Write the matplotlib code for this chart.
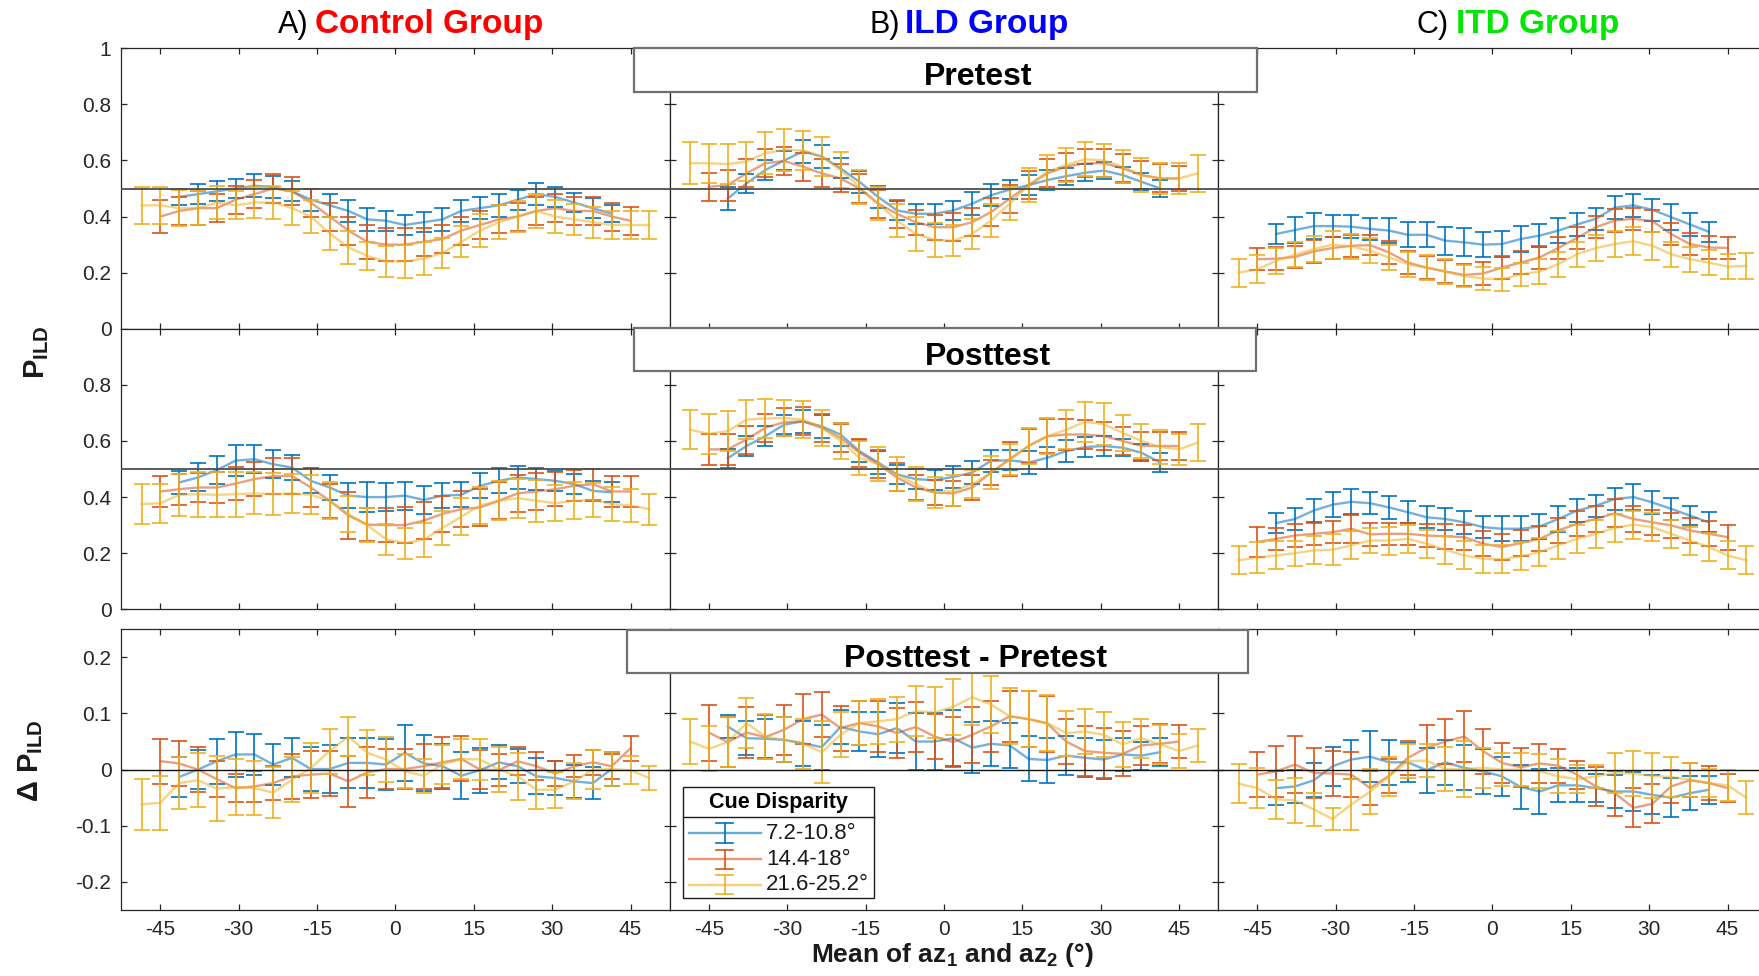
import matplotlib
matplotlib.use("Agg")
import matplotlib.pyplot as plt
from matplotlib.patches import Rectangle

plt.rcParams['font.family'] = ['Liberation Sans', 'DejaVu Sans']
plt.rcParams['axes.unicode_minus'] = False
plt.rcParams['mathtext.fontset'] = 'custom'
plt.rcParams['mathtext.rm'] = 'Liberation Sans'
plt.rcParams['mathtext.bf'] = 'Liberation Sans:bold'
plt.rcParams['mathtext.it'] = 'Liberation Sans:italic'

# mean azimuth of the pair, one grid per cue disparity
x_b = [-41.4, -37.8, -34.2, -30.6, -27.0, -23.4, -19.8, -16.2, -12.6, -9.0, -5.4, -1.8,
       1.8, 5.4, 9.0, 12.6, 16.2, 19.8, 23.4, 27.0, 30.6, 34.2, 37.8, 41.4]
x_r = [-45.0, -41.4, -37.8, -34.2, -30.6, -27.0, -23.4, -19.8, -16.2, -12.6, -9.0, -5.4, -1.8,
       1.8, 5.4, 9.0, 12.6, 16.2, 19.8, 23.4, 27.0, 30.6, 34.2, 37.8, 41.4, 45.0]
x_y = [-48.6, -45.0, -41.4, -37.8, -34.2, -30.6, -27.0, -23.4, -19.8, -16.2, -12.6, -9.0, -5.4, -1.8,
       1.8, 5.4, 9.0, 12.6, 16.2, 19.8, 23.4, 27.0, 30.6, 34.2, 37.8, 41.4, 45.0, 48.6]

disparity_labels = ['7.2-10.8°', '14.4-18°', '21.6-25.2°']
group_letters = ['A)', 'B)', 'C)']
group_names = ['Control Group', 'ILD Group', 'ITD Group']
group_colors = ['#ff0000', '#0000ff', '#00e600']
row_titles = ['Pretest', 'Posttest', 'Posttest - Pretest']

# ---- Pretest ----
ctrl_pre_b = [0.47, 0.48, 0.49, 0.50, 0.51, 0.505, 0.49, 0.46, 0.44, 0.42, 0.39, 0.385,
              0.37, 0.38, 0.39, 0.42, 0.43, 0.44, 0.46, 0.48, 0.47, 0.45, 0.43, 0.41]
ctrl_pre_r = [0.40, 0.42, 0.43, 0.43, 0.46, 0.48, 0.50, 0.49, 0.45, 0.40, 0.35, 0.31, 0.30,
              0.30, 0.31, 0.32, 0.35, 0.37, 0.39, 0.40, 0.42, 0.43, 0.42, 0.42, 0.40, 0.385]
ctrl_pre_y = [0.44, 0.44, 0.43, 0.43, 0.45, 0.44, 0.45, 0.45, 0.43, 0.40, 0.34, 0.29, 0.26, 0.24,
              0.24, 0.25, 0.27, 0.31, 0.35, 0.38, 0.40, 0.42, 0.40, 0.39, 0.38, 0.37, 0.37, 0.37]
ctrl_pre_b_err = [0.03, 0.035, 0.035, 0.035, 0.04, 0.04, 0.035, 0.04, 0.04, 0.04, 0.04, 0.035,
                  0.035, 0.035, 0.04, 0.04, 0.04, 0.04, 0.035, 0.04, 0.035, 0.035, 0.035, 0.03]
ctrl_pre_r_err = [0.06, 0.05, 0.06, 0.05, 0.05, 0.05, 0.05, 0.05, 0.05, 0.05, 0.05, 0.06, 0.06,
                  0.06, 0.05, 0.05, 0.05, 0.05, 0.05, 0.05, 0.05, 0.05, 0.05, 0.05, 0.05, 0.05]
ctrl_pre_y_err = [0.065, 0.065, 0.065, 0.06, 0.06, 0.05, 0.055, 0.06, 0.06, 0.06, 0.06, 0.06, 0.05, 0.055,
                  0.06, 0.06, 0.055, 0.055, 0.06, 0.06, 0.055, 0.06, 0.06, 0.055, 0.055, 0.05, 0.05, 0.05]

ild_pre_b = [0.464, 0.518, 0.566, 0.60, 0.632, 0.614, 0.572, 0.524, 0.47, 0.422, 0.41, 0.41,
             0.422, 0.446, 0.476, 0.496, 0.512, 0.53, 0.544, 0.556, 0.564, 0.548, 0.524, 0.50]
ild_pre_r = [0.506, 0.512, 0.554, 0.59, 0.598, 0.578, 0.554, 0.536, 0.50, 0.446, 0.41, 0.38, 0.362,
             0.362, 0.38, 0.416, 0.464, 0.512, 0.554, 0.578, 0.59, 0.59, 0.572, 0.548, 0.536, 0.536]
ild_pre_y = [0.59, 0.59, 0.587, 0.596, 0.626, 0.638, 0.636, 0.614, 0.566, 0.506, 0.446, 0.386, 0.338, 0.317,
             0.314, 0.338, 0.386, 0.446, 0.512, 0.56, 0.584, 0.604, 0.60, 0.578, 0.548, 0.536, 0.536, 0.554]
ild_pre_b_err = [0.04, 0.035, 0.035, 0.035, 0.04, 0.04, 0.035, 0.04, 0.04, 0.035, 0.035, 0.035,
                 0.035, 0.04, 0.04, 0.035, 0.035, 0.035, 0.03, 0.03, 0.03, 0.03, 0.03, 0.03]
ild_pre_r_err = [0.05, 0.055, 0.05, 0.05, 0.05, 0.05, 0.05, 0.05, 0.05, 0.05, 0.05, 0.045, 0.045,
                 0.05, 0.05, 0.05, 0.05, 0.05, 0.05, 0.05, 0.05, 0.05, 0.05, 0.05, 0.05, 0.045]
ild_pre_y_err = [0.075, 0.07, 0.07, 0.07, 0.075, 0.075, 0.07, 0.07, 0.065, 0.06, 0.06, 0.06, 0.06, 0.06,
                 0.055, 0.055, 0.06, 0.06, 0.06, 0.06, 0.06, 0.06, 0.06, 0.06, 0.06, 0.055, 0.055, 0.065]

itd_pre_b = [0.338, 0.352, 0.366, 0.366, 0.364, 0.356, 0.35, 0.335, 0.335, 0.314, 0.308, 0.30,
             0.302, 0.32, 0.332, 0.35, 0.372, 0.392, 0.432, 0.44, 0.424, 0.398, 0.372, 0.346]
itd_pre_r = [0.248, 0.25, 0.256, 0.276, 0.288, 0.296, 0.298, 0.272, 0.236, 0.218, 0.204, 0.192, 0.197,
             0.218, 0.236, 0.254, 0.288, 0.324, 0.362, 0.386, 0.392, 0.384, 0.338, 0.302, 0.29, 0.288]
itd_pre_y = [0.20, 0.212, 0.242, 0.264, 0.284, 0.30, 0.293, 0.278, 0.254, 0.23, 0.218, 0.204, 0.188, 0.179,
             0.176, 0.194, 0.204, 0.23, 0.266, 0.288, 0.302, 0.312, 0.296, 0.266, 0.248, 0.236, 0.222, 0.224]
itd_pre_b_err = [0.035, 0.045, 0.045, 0.04, 0.04, 0.04, 0.045, 0.045, 0.045, 0.05, 0.05, 0.045,
                 0.045, 0.045, 0.04, 0.045, 0.04, 0.04, 0.04, 0.04, 0.04, 0.045, 0.04, 0.035]
itd_pre_r_err = [0.04, 0.04, 0.04, 0.04, 0.04, 0.04, 0.035, 0.04, 0.04, 0.04, 0.04, 0.04, 0.04,
                 0.04, 0.04, 0.04, 0.04, 0.04, 0.04, 0.04, 0.04, 0.04, 0.04, 0.04, 0.04, 0.04]
itd_pre_y_err = [0.05, 0.05, 0.045, 0.045, 0.045, 0.05, 0.045, 0.045, 0.045, 0.045, 0.045, 0.045, 0.04, 0.04,
                 0.04, 0.04, 0.045, 0.045, 0.045, 0.045, 0.045, 0.05, 0.05, 0.045, 0.045, 0.045, 0.045, 0.045]

# ---- Posttest ----
ctrl_post_b = [0.452, 0.47, 0.496, 0.53, 0.535, 0.517, 0.505, 0.458, 0.434, 0.405, 0.40, 0.40,
               0.405, 0.39, 0.405, 0.408, 0.44, 0.458, 0.47, 0.464, 0.458, 0.446, 0.422, 0.417]
ctrl_post_r = [0.42, 0.428, 0.434, 0.434, 0.448, 0.464, 0.475, 0.475, 0.434, 0.387, 0.334, 0.302, 0.30,
               0.30, 0.316, 0.34, 0.357, 0.363, 0.387, 0.413, 0.42, 0.428, 0.44, 0.446, 0.42, 0.42]
ctrl_post_y = [0.375, 0.378, 0.408, 0.41, 0.408, 0.41, 0.413, 0.41, 0.413, 0.408, 0.387, 0.34, 0.30, 0.25,
               0.236, 0.248, 0.29, 0.33, 0.37, 0.387, 0.396, 0.387, 0.378, 0.387, 0.39, 0.375, 0.37, 0.357]
ctrl_post_b_err = [0.04, 0.05, 0.05, 0.055, 0.05, 0.05, 0.045, 0.045, 0.045, 0.045, 0.055, 0.05,
                   0.05, 0.05, 0.045, 0.045, 0.045, 0.045, 0.04, 0.04, 0.035, 0.035, 0.035, 0.035]
ctrl_post_r_err = [0.055, 0.055, 0.05, 0.055, 0.06, 0.06, 0.065, 0.065, 0.07, 0.06, 0.085, 0.06, 0.06,
                   0.065, 0.065, 0.065, 0.065, 0.065, 0.065, 0.065, 0.065, 0.06, 0.055, 0.055, 0.055, 0.055]
ctrl_post_y_err = [0.07, 0.07, 0.075, 0.08, 0.08, 0.08, 0.075, 0.075, 0.07, 0.07, 0.065, 0.065, 0.06, 0.055,
                   0.055, 0.06, 0.06, 0.065, 0.065, 0.07, 0.07, 0.075, 0.065, 0.065, 0.06, 0.06, 0.06, 0.055]

ild_post_b = [0.538, 0.582, 0.617, 0.658, 0.67, 0.652, 0.623, 0.564, 0.523, 0.481, 0.464, 0.46,
              0.472, 0.487, 0.529, 0.531, 0.523, 0.54, 0.564, 0.578, 0.582, 0.576, 0.558, 0.523]
ild_post_r = [0.57, 0.57, 0.605, 0.647, 0.667, 0.67, 0.647, 0.611, 0.558, 0.517, 0.47, 0.434, 0.416,
              0.413, 0.434, 0.487, 0.535, 0.582, 0.617, 0.623, 0.623, 0.617, 0.60, 0.582, 0.582, 0.582]
ild_post_y = [0.64, 0.625, 0.635, 0.676, 0.68, 0.682, 0.676, 0.647, 0.60, 0.54, 0.517, 0.481, 0.446, 0.416,
              0.422, 0.446, 0.487, 0.535, 0.582, 0.617, 0.64, 0.668, 0.66, 0.629, 0.60, 0.578, 0.57, 0.594]
ild_post_b_err = [0.035, 0.035, 0.035, 0.035, 0.04, 0.04, 0.04, 0.04, 0.04, 0.035, 0.035, 0.035,
                  0.04, 0.04, 0.04, 0.035, 0.04, 0.04, 0.04, 0.035, 0.035, 0.03, 0.03, 0.035]
ild_post_r_err = [0.055, 0.055, 0.05, 0.05, 0.05, 0.05, 0.05, 0.05, 0.05, 0.05, 0.05, 0.045, 0.045,
                  0.045, 0.045, 0.045, 0.06, 0.06, 0.06, 0.055, 0.05, 0.05, 0.05, 0.05, 0.05, 0.05]
ild_post_y_err = [0.07, 0.07, 0.07, 0.07, 0.07, 0.065, 0.065, 0.065, 0.065, 0.06, 0.06, 0.06, 0.06, 0.055,
                  0.055, 0.05, 0.06, 0.055, 0.065, 0.065, 0.07, 0.07, 0.075, 0.065, 0.06, 0.06, 0.055, 0.065]

itd_post_b = [0.307, 0.322, 0.352, 0.373, 0.383, 0.378, 0.363, 0.346, 0.328, 0.322, 0.31, 0.293,
              0.287, 0.287, 0.295, 0.322, 0.352, 0.369, 0.393, 0.40, 0.381, 0.358, 0.334, 0.31]
itd_post_r = [0.24, 0.251, 0.263, 0.269, 0.275, 0.287, 0.267, 0.269, 0.269, 0.263, 0.26, 0.257, 0.234,
              0.222, 0.236, 0.251, 0.281, 0.305, 0.322, 0.342, 0.322, 0.31, 0.299, 0.281, 0.269, 0.257]
itd_post_y = [0.175, 0.184, 0.192, 0.20, 0.21, 0.212, 0.228, 0.245, 0.245, 0.251, 0.234, 0.212, 0.192, 0.18,
              0.178, 0.189, 0.204, 0.228, 0.251, 0.269, 0.29, 0.302, 0.293, 0.269, 0.245, 0.222, 0.192, 0.175]
itd_post_b_err = [0.035, 0.04, 0.04, 0.045, 0.045, 0.04, 0.04, 0.04, 0.04, 0.04, 0.04, 0.04,
                  0.045, 0.045, 0.045, 0.045, 0.04, 0.04, 0.04, 0.045, 0.04, 0.04, 0.035, 0.035]
itd_post_r_err = [0.055, 0.04, 0.04, 0.04, 0.04, 0.05, 0.04, 0.04, 0.04, 0.04, 0.045, 0.045, 0.045,
                  0.045, 0.045, 0.045, 0.045, 0.045, 0.045, 0.05, 0.045, 0.045, 0.045, 0.045, 0.045, 0.045]
itd_post_y_err = [0.05, 0.055, 0.05, 0.045, 0.05, 0.055, 0.05, 0.045, 0.05, 0.05, 0.05, 0.05, 0.05, 0.05,
                  0.05, 0.05, 0.05, 0.05, 0.05, 0.05, 0.05, 0.05, 0.05, 0.05, 0.05, 0.05, 0.05, 0.05]

# ---- Posttest - Pretest ----
ctrl_diff_b = [-0.013, 0.0, 0.015, 0.027, 0.027, 0.009, 0.021, 0.001, 0.001, 0.012, 0.012, 0.009,
               0.03, 0.011, 0.006, -0.011, -0.001, 0.013, 0.006, -0.012, -0.015, -0.021, -0.024, 0.001]
ctrl_diff_r = [0.015, 0.011, 0.0, -0.017, -0.033, -0.03, -0.024, -0.012, -0.009, -0.007, -0.021, -0.005, 0.001,
               0.001, 0.006, 0.013, 0.019, 0.0, -0.001, 0.015, 0.006, -0.007, 0.006, 0.013, 0.006, 0.038]
ctrl_diff_y = [-0.062, -0.059, -0.024, -0.019, -0.034, -0.031, -0.033, -0.041, -0.018, 0.003, 0.033, 0.059, 0.03, 0.018,
               -0.003, -0.011, 0.009, 0.019, 0.018, 0.0, -0.012, -0.036, -0.036, -0.021, 0.0, 0.001, -0.001, -0.015]
ctrl_diff_b_err = [0.035, 0.035, 0.04, 0.04, 0.037, 0.036, 0.035, 0.04, 0.042, 0.045, 0.045, 0.045,
                   0.05, 0.05, 0.04, 0.042, 0.04, 0.03, 0.03, 0.032, 0.03, 0.03, 0.028, 0.03]
ctrl_diff_r_err = [0.04, 0.04, 0.04, 0.032, 0.025, 0.028, 0.03, 0.04, 0.042, 0.04, 0.046, 0.045, 0.035,
                   0.035, 0.04, 0.045, 0.04, 0.035, 0.028, 0.025, 0.025, 0.022, 0.02, 0.022, 0.022, 0.022]
ctrl_diff_y_err = [0.045, 0.048, 0.047, 0.048, 0.058, 0.05, 0.048, 0.046, 0.04, 0.045, 0.04, 0.034, 0.04, 0.04,
                   0.03, 0.03, 0.034, 0.036, 0.036, 0.04, 0.042, 0.035, 0.032, 0.032, 0.035, 0.03, 0.025, 0.022]

ild_diff_b = [0.077, 0.056, 0.055, 0.053, 0.047, 0.04, 0.076, 0.068, 0.063, 0.074, 0.05, 0.05,
              0.056, 0.039, 0.046, 0.043, 0.019, 0.017, 0.025, 0.021, 0.018, 0.027, 0.025, 0.031]
ild_diff_r = [0.066, 0.049, 0.066, 0.058, 0.071, 0.09, 0.098, 0.074, 0.083, 0.077, 0.065, 0.076, 0.059,
              0.049, 0.062, 0.077, 0.095, 0.09, 0.082, 0.05, 0.033, 0.03, 0.028, 0.043, 0.046, 0.05]
ild_diff_y = [0.05, 0.037, 0.049, 0.083, 0.059, 0.053, 0.046, 0.031, 0.062, 0.083, 0.086, 0.09, 0.104, 0.102,
              0.112, 0.129, 0.116, 0.095, 0.09, 0.083, 0.065, 0.068, 0.062, 0.045, 0.056, 0.045, 0.033, 0.043]
ild_diff_b_err = [0.02, 0.03, 0.035, 0.04, 0.04, 0.04, 0.03, 0.035, 0.04, 0.045, 0.05, 0.05,
                  0.05, 0.045, 0.04, 0.04, 0.04, 0.04, 0.035, 0.035, 0.035, 0.03, 0.025, 0.025]
ild_diff_r_err = [0.05, 0.045, 0.045, 0.04, 0.045, 0.045, 0.04, 0.04, 0.04, 0.045, 0.045, 0.045, 0.04,
                  0.045, 0.05, 0.045, 0.045, 0.05, 0.05, 0.04, 0.045, 0.045, 0.04, 0.035, 0.035, 0.03]
ild_diff_y_err = [0.04, 0.04, 0.045, 0.045, 0.04, 0.04, 0.045, 0.055, 0.04, 0.04, 0.04, 0.04, 0.045, 0.045,
                  0.05, 0.05, 0.05, 0.05, 0.05, 0.05, 0.04, 0.04, 0.04, 0.04, 0.035, 0.035, 0.03, 0.03]

itd_diff_b = [-0.033, -0.03, -0.019, 0.006, 0.018, 0.023, 0.013, 0.013, -0.001, 0.013, 0.003, -0.003,
              -0.012, -0.031, -0.039, -0.028, -0.028, -0.033, -0.039, -0.039, -0.045, -0.05, -0.042, -0.036]
itd_diff_r = [-0.009, -0.003, 0.009, -0.006, -0.007, -0.009, -0.033, -0.011, 0.021, 0.039, 0.05, 0.059, 0.033,
              0.012, 0.004, 0.011, 0.007, -0.009, -0.03, -0.042, -0.068, -0.061, -0.03, -0.019, -0.024, -0.033]
itd_diff_y = [-0.025, -0.033, -0.053, -0.055, -0.071, -0.088, -0.062, -0.039, -0.012, 0.015, 0.016, 0.001, 0.001, 0.003,
              0.0, 0.0, -0.003, -0.012, -0.017, -0.012, -0.006, -0.007, -0.011, -0.013, -0.018, -0.024, -0.028, -0.05]
itd_diff_b_err = [0.03, 0.03, 0.03, 0.035, 0.035, 0.045, 0.04, 0.035, 0.04, 0.04, 0.04, 0.04,
                  0.035, 0.04, 0.04, 0.03, 0.03, 0.025, 0.03, 0.035, 0.035, 0.035, 0.03, 0.025]
itd_diff_r_err = [0.04, 0.045, 0.05, 0.045, 0.04, 0.04, 0.03, 0.03, 0.03, 0.04, 0.04, 0.045, 0.04,
                  0.035, 0.035, 0.035, 0.03, 0.025, 0.035, 0.04, 0.035, 0.035, 0.03, 0.03, 0.03, 0.025]
itd_diff_y_err = [0.035, 0.035, 0.035, 0.04, 0.03, 0.02, 0.045, 0.04, 0.035, 0.03, 0.03, 0.04, 0.05, 0.035,
                  0.03, 0.03, 0.03, 0.03, 0.025, 0.02, 0.035, 0.04, 0.04, 0.035, 0.03, 0.025, 0.028, 0.03]

# rows: pre, post, diff; columns: control, ILD, ITD
panels = [
    [[(ctrl_pre_b, ctrl_pre_b_err), (ctrl_pre_r, ctrl_pre_r_err), (ctrl_pre_y, ctrl_pre_y_err)],
     [(ild_pre_b, ild_pre_b_err), (ild_pre_r, ild_pre_r_err), (ild_pre_y, ild_pre_y_err)],
     [(itd_pre_b, itd_pre_b_err), (itd_pre_r, itd_pre_r_err), (itd_pre_y, itd_pre_y_err)]],
    [[(ctrl_post_b, ctrl_post_b_err), (ctrl_post_r, ctrl_post_r_err), (ctrl_post_y, ctrl_post_y_err)],
     [(ild_post_b, ild_post_b_err), (ild_post_r, ild_post_r_err), (ild_post_y, ild_post_y_err)],
     [(itd_post_b, itd_post_b_err), (itd_post_r, itd_post_r_err), (itd_post_y, itd_post_y_err)]],
    [[(ctrl_diff_b, ctrl_diff_b_err), (ctrl_diff_r, ctrl_diff_r_err), (ctrl_diff_y, ctrl_diff_y_err)],
     [(ild_diff_b, ild_diff_b_err), (ild_diff_r, ild_diff_r_err), (ild_diff_y, ild_diff_y_err)],
     [(itd_diff_b, itd_diff_b_err), (itd_diff_r, itd_diff_r_err), (itd_diff_y, itd_diff_y_err)]],
]
x_grids = [x_b, x_r, x_y]
colors = ['#0072BD', '#D95319', '#EDB120']
AX_COLOR = '#262626'

W, H = 1759, 976
fig = plt.figure(figsize=(W / 100, H / 100), dpi=100)

# axes placement in pixels (the right column runs past the figure edge)
col_left = [121.2, 669.7, 1218.2]
row_top = [48.2, 328.7, 629.3]
ax_w, ax_h = 548.5, 280.6

ylims = [(0, 1), (0, 1), (-0.25, 0.25)]
yticks = [[0, 0.2, 0.4, 0.6, 0.8, 1], [0, 0.2, 0.4, 0.6, 0.8], [-0.2, -0.1, 0, 0.1, 0.2]]
ytick_labels = [['0', '0.2', '0.4', '0.6', '0.8', '1'], ['0', '0.2', '0.4', '0.6', '0.8'],
                ['-0.2', '-0.1', '0', '0.1', '0.2']]
xticks = [-45, -30, -15, 0, 15, 30, 45]
ref_level = [0.5, 0.5, 0.0]

axes = []
for r in range(3):
    row_axes = []
    for c in range(3):
        ax = fig.add_axes([col_left[c] / W, 1 - (row_top[r] + ax_h) / H, ax_w / W, ax_h / H])
        for sp in ax.spines.values():
            sp.set_color(AX_COLOR)
            sp.set_linewidth(0.9)
        ax.set_xlim(-52.5, 52.5)
        ax.set_ylim(*ylims[r])
        ax.set_xticks(xticks)
        ax.set_yticks(yticks[r])
        ax.tick_params(direction='in', length=4, width=0.9, top=True, right=True,
                       colors=AX_COLOR, labelsize=15, pad=7)
        if r == 2:
            ax.set_xticklabels([str(t) for t in xticks])
        else:
            ax.set_xticklabels([])
        if c == 0:
            ax.set_yticklabels(ytick_labels[r])
        else:
            ax.set_yticklabels([])

        ax.axhline(ref_level[r], color='#4d4d4d' if r < 2 else '#111111',
                   lw=1.3 if r < 2 else 1.0, zorder=4)

        for k in range(3):
            vals, errs = panels[r][c][k]
            line, caps, bars = ax.errorbar(x_grids[k], vals, yerr=errs, color=colors[k],
                                           lw=1.7, elinewidth=1.2, capsize=5.5, capthick=1.2,
                                           zorder=3 + k * 0.1)
            line.set_alpha(0.55)
        row_axes.append(ax)
    axes.append(row_axes)

# boxed row titles laid over the top of each row
title_boxes = [(634, 48, 1257, 92, 978, 77), (634, 328, 1256, 371, 988, 357),
               (627, 630, 1248, 673, 976, 659)]
for (x0, y0, x1, y1, tx, ty), label in zip(title_boxes, row_titles):
    fig.add_artist(Rectangle((x0 / W, 1 - y1 / H), (x1 - x0) / W, (y1 - y0) / H,
                             transform=fig.transFigure, facecolor='white',
                             edgecolor='#707070', lw=1.6, zorder=5))
    fig.text(tx / W, 1 - ty / H, label, ha='center', va='center', fontsize=23,
             fontweight='bold', color='black', zorder=6)

# group titles above each column
letter_right = [309, 900, 1449]
name_left = [315, 905, 1456]
for c in range(3):
    fig.text(letter_right[c] / W, 1 - 33 / H, group_letters[c], ha='right', va='baseline',
             fontsize=22, color='black')
    fig.text(name_left[c] / W, 1 - 33 / H, group_names[c], ha='left', va='baseline',
             fontsize=24, fontweight='bold', color=group_colors[c])

# axis labels
fig.text(37 / W, 1 - 352 / H, r'$\mathbf{P_{ILD}}$', rotation=90, ha='center', va='center',
         fontsize=21, color='#1a1a1a')
fig.text(31 / W, 1 - 761 / H, r'$\mathbf{\Delta\ P_{ILD}}$', rotation=90, ha='center', va='center',
         fontsize=21, color='#1a1a1a')
fig.text(952 / W, 1 - 955 / H, r'Mean of az$_\mathbf{1}$ and az$_\mathbf{2}$ (°)', ha='center',
         va='center', fontsize=19, fontweight='bold', color='#1a1a1a')

# legend drawn by hand in the middle difference panel
lax = axes[2][1]
lax.add_patch(Rectangle((0.024, 0.043), 0.349, 0.395, transform=lax.transAxes,
                        facecolor='white', edgecolor='#1a1a1a', lw=1.0, zorder=10))
lax.plot([0.024, 0.373], [0.331, 0.331], transform=lax.transAxes, color='#1a1a1a',
         lw=1.0, zorder=11)
lax.text(0.198, 0.384, 'Cue Disparity', transform=lax.transAxes, ha='center', va='center',
         fontsize=15.5, fontweight='bold', zorder=11)
entry_y = [0.274, 0.181, 0.089]
for k in range(3):
    ey = entry_y[k]
    lax.plot([0.035, 0.166], [ey, ey], transform=lax.transAxes, color=colors[k], lw=1.7,
             alpha=0.6, zorder=11)
    lax.plot([0.100, 0.100], [ey - 0.034, ey + 0.034], transform=lax.transAxes,
             color=colors[k], lw=1.2, zorder=11)
    for cy in (ey - 0.034, ey + 0.034):
        lax.plot([0.085, 0.115], [cy, cy], transform=lax.transAxes, color=colors[k],
                 lw=1.2, zorder=11)
    lax.text(0.176, ey, disparity_labels[k], transform=lax.transAxes, ha='left',
             va='center', fontsize=16, color='#1a1a1a', zorder=11)

fig.savefig('out.png', dpi=100)
